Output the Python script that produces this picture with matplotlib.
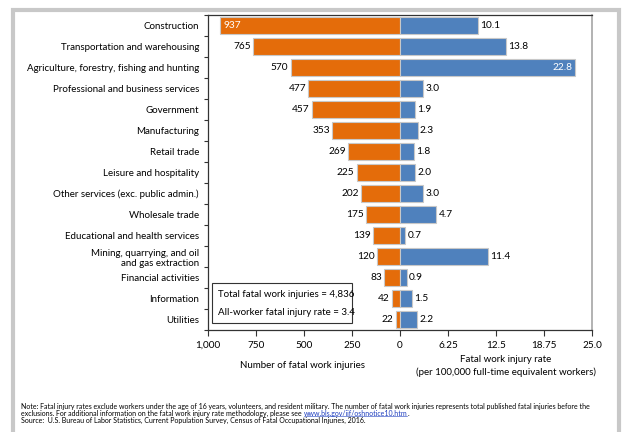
import matplotlib
matplotlib.use('Agg')
import matplotlib.pyplot as plt
from matplotlib.patches import Rectangle
from matplotlib.lines import Line2D

plt.rcParams['font.family'] = ['Lato', 'DejaVu Sans']

categories = ['Construction', 'Transportation and warehousing',
              'Agriculture, forestry, fishing and hunting',
              'Professional and business services', 'Government',
              'Manufacturing', 'Retail trade', 'Leisure and hospitality',
              'Other services (exc. public admin.)', 'Wholesale trade',
              'Educational and health services',
              'Mining, quarrying, and oil\nand gas extraction',
              'Financial activities', 'Information', 'Utilities']
counts = [937, 765, 570, 477, 457, 353, 269, 225, 202, 175, 139, 120, 83, 42, 22]
rates = [10.1, 13.8, 22.8, 3.0, 1.9, 2.3, 1.8, 2.0, 3.0, 4.7, 0.7, 11.4, 0.9, 1.5, 2.2]
tick_labels = ['1,000', '750', '500', '250', '0', '6.25', '12.5', '18.75', '25.0']

count_max = 1000
rate_max = 25.0
orange = '#E46C0A'
blue = '#4F81BD'

fig = plt.figure(figsize=(6.22, 4.32), dpi=100)
ax = fig.add_axes([208 / 622, 1 - 330 / 432, 384 / 622, 315 / 432])

y = list(range(len(categories)))
left = [-c / count_max for c in counts]
right = [r / rate_max for r in rates]

ax.barh(y, left, height=0.8, color=orange, edgecolor='#C8C8C8', linewidth=0.8, zorder=2)
ax.barh(y, right, height=0.8, color=blue, edgecolor='#C8C8C8', linewidth=0.8, zorder=2)

# value labels
for i in y:
    if counts[i] > 900:
        ax.text(left[i] + 0.02, i, str(counts[i]), color='white', fontsize=7.3,
                ha='left', va='center', zorder=3)
    else:
        ax.text(left[i] - 0.012, i, str(counts[i]), color='black', fontsize=7.3,
                ha='right', va='center', zorder=3)
    if rates[i] > 20:
        ax.text(right[i] - 0.015, i, '%.1f' % rates[i], color='white', fontsize=7.3,
                ha='right', va='center', zorder=3)
    else:
        ax.text(right[i] + 0.012, i, '%.1f' % rates[i], color='black', fontsize=7.3,
                ha='left', va='center', zorder=3)

ax.set_xlim(-1, 1)
ax.set_ylim(len(categories) - 0.5, -0.5)

ax.set_xticks([-1, -0.75, -0.5, -0.25, 0, 0.25, 0.5, 0.75, 1])
ax.set_xticklabels(tick_labels, fontsize=7.2)
ax.tick_params(axis='x', length=4, width=0.8, pad=4, color='#333333')

ax.set_yticks(y)
ax.set_yticklabels(categories, fontsize=7.0)
for lab in ax.get_yticklabels():
    lab.set_multialignment('right')
ax.set_yticks([i - 0.5 for i in range(len(categories) + 1)], minor=True)
ax.tick_params(axis='y', which='major', length=0, pad=6.5)
ax.tick_params(axis='y', which='minor', length=3, width=0.8, color='#333333')

for s in ['left', 'bottom', 'top']:
    ax.spines[s].set_color('#333333')
    ax.spines[s].set_linewidth(0.9)
ax.spines['right'].set_color('#A6A6A6')
ax.spines['right'].set_linewidth(1.2)

# summary box
ax.add_patch(Rectangle((-0.979, 12.26), 0.729, 1.91, facecolor='white',
                       edgecolor='#333333', linewidth=0.8, zorder=4))
ax.text(-0.948, 12.79, 'Total fatal work injuries = 4,836', fontsize=7.0,
        va='center', ha='left', zorder=5)
ax.text(-0.948, 13.69, 'All-worker fatal injury rate = 3.4', fontsize=7.0,
        va='center', ha='left', zorder=5)

# axis titles
fig.text(302 / 622, 1 - 365 / 432, 'Number of fatal work injuries', fontsize=7.0,
         ha='center', va='center')
fig.text(506 / 622, 1 - 366 / 432,
         'Fatal work injury rate\n(per 100,000 full-time equivalent workers)',
         fontsize=7.0, ha='center', va='center', linespacing=1.45)

# notes
fs = 5.0
x0 = 21 / 622
fig.text(x0, 1 - 406.5 / 432,
         'Note: Fatal injury rates exclude workers under the age of 16 years, volunteers, and resident military. '
         'The number of fatal work injuries represents total published fatal injuries before the',
         fontsize=fs, ha='left', va='center')
t2 = fig.text(x0, 1 - 413.5 / 432,
              'exclusions. For additional information on the fatal work injury rate methodology, please see ',
              fontsize=fs, ha='left', va='center')
link = fig.text(0, 0, 'www.bls.gov/iif/oshnotice10.htm', fontsize=fs, color='#1F3FBF',
                ha='left', va='center')
t3 = fig.text(0, 0, '.', fontsize=fs, ha='left', va='center')
fig.text(x0, 1 - 420.5 / 432,
         'Source:  U.S. Bureau of Labor Statistics, Current Population Survey, Census of Fatal Occupational Injuries, 2016.',
         fontsize=fs, ha='left', va='center')

fig.canvas.draw()
r = fig.canvas.get_renderer()
bb = t2.get_window_extent(r)
W, H = fig.get_size_inches() * fig.dpi
link.set_position((bb.x1 / W, 1 - 413.5 / 432))
fig.canvas.draw()
lb = link.get_window_extent(r)
t3.set_position((lb.x1 / W, 1 - 413.5 / 432))
fig.add_artist(Line2D([lb.x0 / W, lb.x1 / W], [(lb.y0 + 0.6) / H] * 2,
                      color='#1F3FBF', linewidth=0.4))

# outer grey frame
fig.add_artist(Rectangle((13 / 622, -0.1), 606 / 622, 1.1 - 10 / 432,
                         transform=fig.transFigure, fill=False,
                         edgecolor='#C8C8C8', linewidth=3))

fig.savefig('out.png', dpi=100)
